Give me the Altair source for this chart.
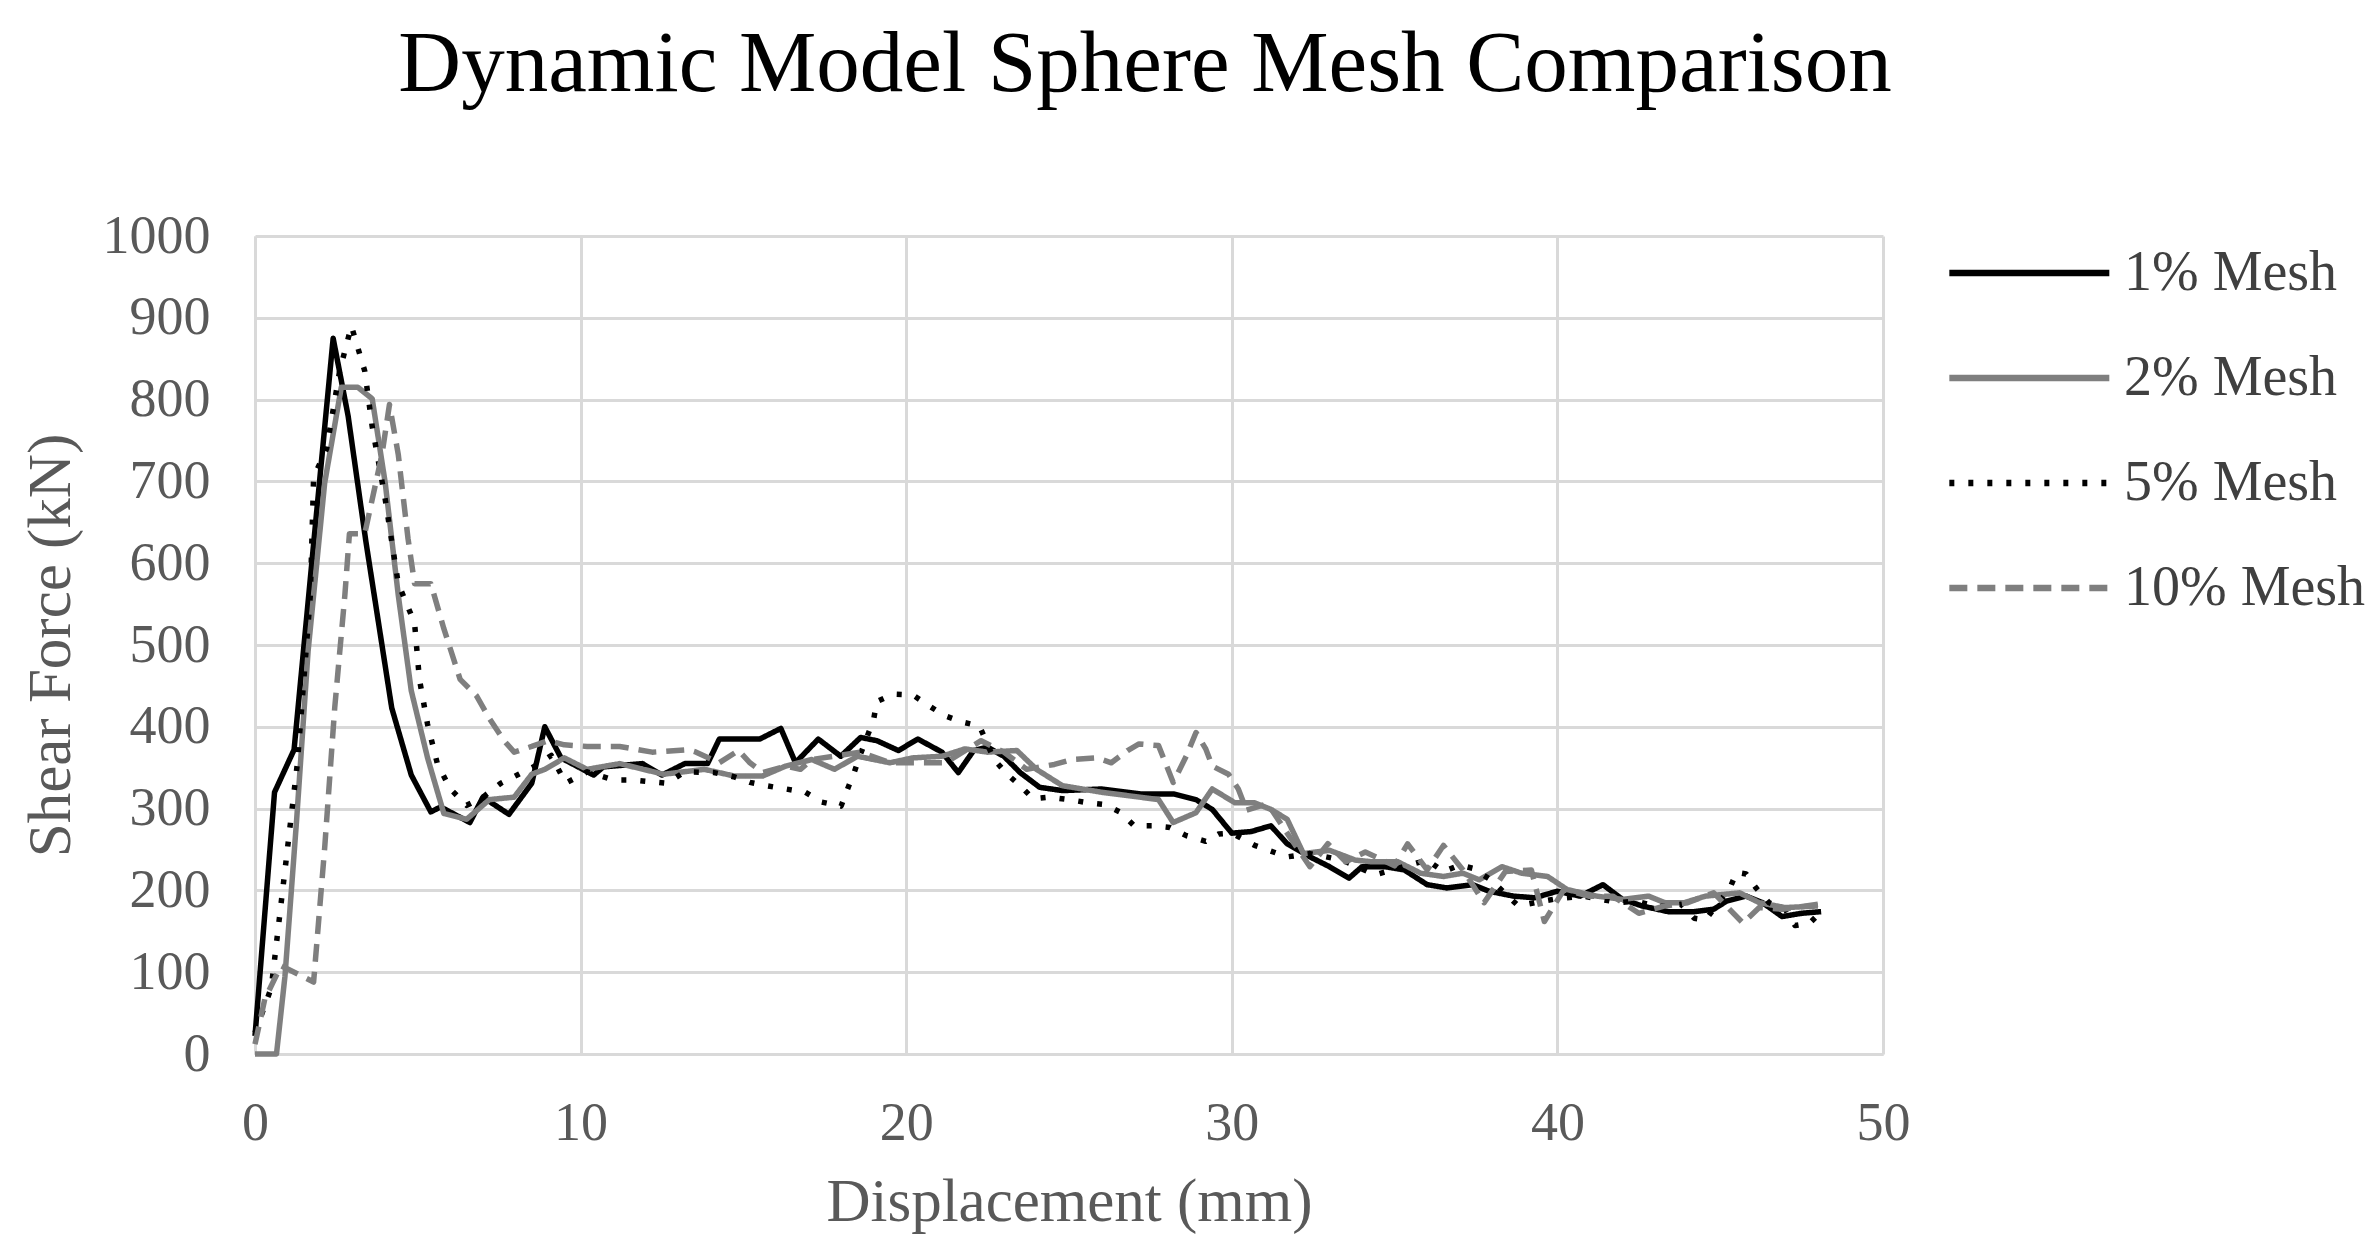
import altair as alt
import pandas as pd

series_names = ["1% Mesh", "2% Mesh", "5% Mesh", "10% Mesh"]
series_colors = ["#000000", "#7f7f7f", "#000000", "#7f7f7f"]
series_dashes = [[1, 0], [1, 0], [5, 14], [18, 10]]

x_ticks = [0, 10, 20, 30, 40, 50]
y_ticks = [0, 100, 200, 300, 400, 500, 600, 700, 800, 900, 1000]

mesh_1 = [(0, 22), (0.6, 320), (1.2, 372), (2.4, 875), (2.86, 780), (3.4, 628), (4.2, 423),
          (4.8, 341), (5.4, 296), (5.7, 302), (6.6, 283), (7.0, 314), (7.8, 293), (8.5, 331),
          (8.9, 400), (9.4, 362), (10.4, 341), (10.7, 351), (11.9, 355), (12.5, 341), (13.2, 355),
          (13.9, 355), (14.26, 385), (15.5, 385), (16.15, 398), (16.6, 356), (17.3, 385),
          (17.99, 364), (18.6, 387), (19.1, 383), (19.76, 371), (20.36, 385), (21.1, 369),
          (21.6, 344), (22.07, 371), (22.5, 375), (23.0, 364), (23.5, 344), (24.1, 326),
          (24.8, 322), (26.0, 324), (27.2, 318), (28.2, 318), (28.9, 311), (29.4, 299),
          (30.0, 270), (30.6, 272), (31.2, 279), (31.7, 257), (32.4, 241), (33.0, 229),
          (33.6, 215), (34.0, 229), (34.7, 229), (35.3, 225), (36.0, 207), (36.6, 203),
          (37.4, 207), (37.9, 199), (38.65, 193), (39.3, 191), (40.0, 199), (40.7, 193),
          (41.4, 207), (42.0, 189), (42.6, 181), (43.4, 174), (44.2, 174), (44.8, 177),
          (45.2, 187), (45.8, 193), (46.3, 185), (46.9, 168), (47.5, 172), (48.1, 174)]

mesh_2 = [(0, 0), (0.66, 0), (0.92, 95), (1.28, 287), (1.63, 492), (2.14, 698), (2.65, 815),
          (3.16, 815), (3.6, 801), (4.0, 698), (4.4, 561), (4.8, 444), (5.3, 362), (5.8, 294),
          (6.5, 287), (7.2, 311), (7.96, 314), (8.5, 342), (8.9, 348), (9.5, 362), (10.2, 348),
          (11.2, 355), (12.55, 342), (13.8, 348), (14.7, 340), (15.6, 340), (16.3, 352),
          (17.1, 360), (17.8, 348), (18.5, 364), (19.5, 356), (20.2, 362), (21.1, 364),
          (21.8, 373), (22.5, 369), (23.4, 371), (24.0, 348), (24.8, 328), (26.0, 320),
          (27.75, 311), (28.2, 283), (28.9, 295), (29.4, 324), (30.1, 307), (30.7, 307),
          (31.2, 299), (31.7, 287), (32.2, 245), (33.0, 249), (33.8, 237), (34.3, 235),
          (35.1, 235), (35.8, 221), (36.5, 217), (37.1, 221), (37.6, 213), (38.3, 229),
          (38.9, 221), (39.7, 217), (40.3, 201), (41.2, 193), (42.0, 189), (42.8, 193),
          (43.3, 185), (43.9, 185), (44.55, 193), (45.6, 197), (46.2, 185), (47.0, 179),
          (48.0, 181)]

mesh_5 = [(0, 26), (0.5, 81), (1.0, 252), (1.3, 355), (1.7, 561), (1.8, 705), (2.2, 740),
          (2.6, 835), (2.96, 890), (3.37, 835), (3.6, 767), (4.0, 678), (4.4, 575), (4.9, 527),
          (5.05, 458), (5.3, 403), (5.6, 355), (6.0, 324), (6.5, 304), (7.0, 314), (7.55, 331),
          (8.1, 342), (8.6, 352), (9.1, 365), (9.54, 331), (10.2, 345), (11.0, 335), (11.6, 335),
          (12.65, 331), (13.2, 345), (14.1, 344), (14.7, 339), (15.2, 332), (15.7, 328),
          (16.3, 324), (16.9, 320), (17.4, 308), (18.0, 303), (18.2, 324), (18.4, 344),
          (18.6, 367), (19.0, 409), (19.1, 431), (19.6, 440), (20.2, 439), (20.65, 427),
          (21.16, 414), (21.7, 406), (22.25, 401), (22.7, 360), (23.1, 342), (23.5, 328),
          (23.9, 312), (24.4, 314), (25.0, 311), (25.6, 307), (26.1, 305), (26.6, 295),
          (27.0, 279), (27.6, 279), (28.1, 277), (28.6, 267), (29.2, 260), (29.6, 269),
          (30.0, 270), (30.7, 255), (31.2, 248), (31.7, 241), (32.4, 245), (33.4, 237),
          (34.4, 219), (35.45, 231), (36.0, 237), (36.5, 223), (37.0, 231), (37.4, 227),
          (37.95, 213), (38.8, 181), (39.3, 185), (40.0, 190), (40.8, 193), (41.9, 185),
          (42.4, 187), (43.1, 180), (43.8, 183), (44.2, 166), (44.55, 164), (45.3, 203),
          (45.5, 222), (45.8, 220), (46.1, 203), (46.5, 185), (47.0, 177), (47.3, 157),
          (47.75, 160), (48.1, 174)]

mesh_10 = [(0, 12), (0.3, 67), (0.8, 108), (1.8, 88), (2.14, 252), (2.45, 424), (2.76, 561),
           (2.9, 636), (3.37, 636), (3.9, 733), (4.13, 794), (4.4, 733), (4.7, 630), (4.9, 575),
           (5.4, 575), (5.8, 520), (6.3, 458), (6.8, 438), (7.2, 410), (7.65, 383), (7.96, 369),
           (8.5, 376), (9.0, 383), (9.5, 378), (10.2, 376), (11.2, 376), (12.2, 369), (13.3, 372),
           (13.55, 369), (14.26, 356), (14.85, 371), (15.2, 356), (15.6, 344), (16.3, 352),
           (16.75, 348), (17.1, 360), (18.6, 369), (19.5, 356), (20.65, 356), (21.2, 356),
           (22.3, 383), (23.0, 369), (23.7, 348), (24.55, 354), (25.1, 360), (25.85, 362),
           (26.3, 356), (26.8, 371), (27.15, 379), (27.75, 377), (28.2, 332), (28.6, 364),
           (28.9, 393), (29.2, 373), (29.4, 352), (29.9, 342), (30.2, 324), (30.45, 298),
           (31.1, 306), (31.7, 270), (32.4, 229), (32.95, 257), (33.5, 235), (34.1, 247),
           (35.0, 230), (35.4, 257), (36.0, 225), (36.5, 255), (37.1, 225), (37.75, 185),
           (38.4, 223), (39.2, 225), (39.6, 162), (40.2, 201), (40.96, 193), (41.7, 193),
           (42.5, 172), (43.3, 181), (44.0, 185), (44.8, 197), (45.7, 160), (46.2, 179),
           (46.9, 177), (48.0, 183)]

rows = []
for name, pts in zip(series_names, [mesh_1, mesh_2, mesh_5, mesh_10]):
    for i, (xv, yv) in enumerate(pts):
        rows.append({"series": name, "x": xv, "y": yv, "idx": i})
df = pd.DataFrame(rows)

FONT = "Liberation Serif"

legend = alt.Legend(
    title=None, orient="none", legendX=1691, legendY=7,
    symbolType="M-1,0H5", symbolSize=2844, symbolStrokeWidth=6.5,
    labelFont=FONT, labelFontSize=56, labelColor="#404040",
    labelOffset=118, rowPadding=47, labelLimit=0,
)

chart = alt.Chart(df).mark_line(
    strokeWidth=5.5, strokeCap="butt", strokeJoin="round"
).encode(
    x=alt.X("x:Q", scale=alt.Scale(domain=[0, 50], nice=False),
            axis=alt.Axis(values=x_ticks, title="Displacement (mm)", labelPadding=42,
                          titlePadding=22, labelFlush=False, format="d")),
    y=alt.Y("y:Q", scale=alt.Scale(domain=[0, 1000], nice=False),
            axis=alt.Axis(values=y_ticks, title="Shear Force (kN)", labelPadding=45,
                          titlePadding=20, format="d")),
    color=alt.Color("series:N", scale=alt.Scale(domain=series_names, range=series_colors),
                    legend=legend),
    strokeDash=alt.StrokeDash("series:N", scale=alt.Scale(domain=series_names, range=series_dashes),
                              legend=legend),
    order="idx:Q",
).properties(
    width=1628, height=818,
    title=alt.Title("Dynamic Model Sphere Mesh Comparison", fontSize=87, font=FONT,
                    fontWeight="normal", color="#000000", anchor="middle", frame="group",
                    dx=76, offset=100),
    autosize=alt.AutoSizeParams(type="none"),
    padding={"left": 247, "top": 228, "right": 488, "bottom": 190},
).configure_view(
    stroke=None
).configure_axis(
    labelFont=FONT, labelFontSize=54, labelColor="#595959",
    titleFont=FONT, titleFontSize=61, titleColor="#595959", titleFontWeight="normal",
    gridColor="#d9d9d9", gridWidth=3, domainColor="#d9d9d9", domainWidth=3,
    ticks=False, grid=True,
)

chart.save("out.html", embed_options={"renderer": "svg", "actions": False})
